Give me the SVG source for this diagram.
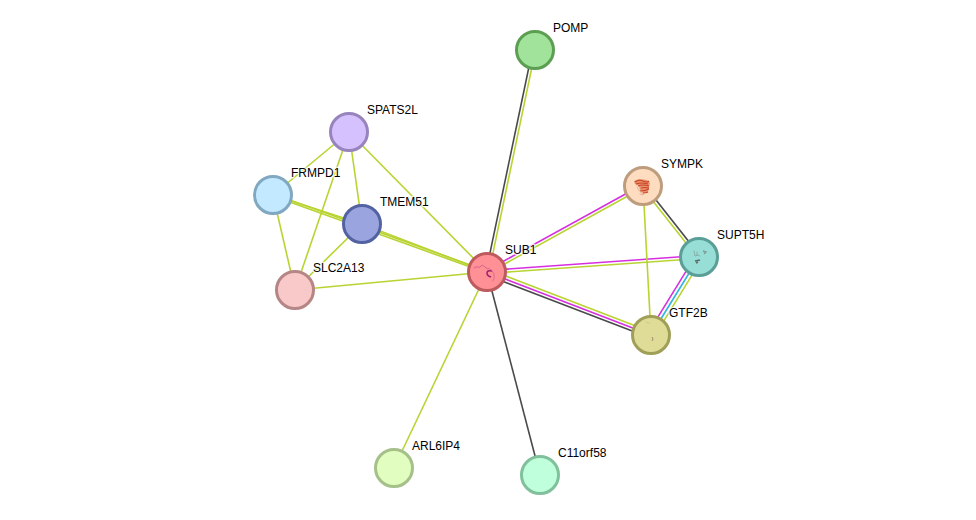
<svg xmlns="http://www.w3.org/2000/svg" width="976" height="520" viewBox="0 0 976 520">
  <style>
    .e { fill: none; stroke-width: 1.6; stroke-linecap: butt; }
    .lime { stroke: #b8d432; }
    .mag { stroke: #d62fe0; }
    .cyan { stroke: #2fb6e0; }
    .dark { stroke: #4a4a4a; }
    .ring { stroke-width: 3; }
    .lbl { font-family: "Liberation Sans", Arial, sans-serif; font-size: 12px; fill: #000; stroke: #fff; stroke-width: 2.5px; stroke-opacity: .75; paint-order: stroke; }
    .fold { fill: none; stroke-width: .7; stroke-linecap: round; }
  </style>
  <rect width="976" height="520" fill="#fff"/>

  <g id="connectors">
    <line class="e dark" x1="486" y1="272" x2="532.5" y2="50"/>
    <line class="e lime" x1="489" y1="272" x2="535.5" y2="50"/>
    <line class="e mag" x1="486.3" y1="270.7" x2="642.3" y2="184.7"/>
    <line class="e lime" x1="487.7" y1="273.3" x2="643.7" y2="187.3"/>
    <line class="e mag" x1="487" y1="270.5" x2="699" y2="255.5"/>
    <line class="e lime" x1="487" y1="273.5" x2="699" y2="258.5"/>
    <line class="e lime" x1="488.1" y1="269.2" x2="652.1" y2="332.2"/>
    <line class="e mag" x1="487" y1="272" x2="651" y2="335"/>
    <line class="e dark" x1="485.9" y1="274.8" x2="649.9" y2="337.8"/>
    <line class="e dark" x1="644.2" y1="185.1" x2="700.2" y2="256.1"/>
    <line class="e lime" x1="641.8" y1="186.9" x2="697.8" y2="257.9"/>
    <line class="e mag" x1="696" y1="255.2" x2="648" y2="333.2"/>
    <line class="e cyan" x1="699" y1="257" x2="651" y2="335"/>
    <line class="e lime" x1="702" y1="258.8" x2="654" y2="336.8"/>
    <line class="e lime" x1="643" y1="186" x2="651" y2="335"/>
    <line class="e lime" x1="273" y1="194" x2="487" y2="271"/>
    <line class="e lime" x1="273" y1="196" x2="487" y2="273"/>
    <line class="e lime" x1="362" y1="224" x2="487" y2="272"/>
    <line class="e lime" x1="273" y1="195" x2="362" y2="224"/>
    <line class="e lime" x1="349" y1="132" x2="273" y2="195"/>
    <line class="e lime" x1="349" y1="132" x2="295" y2="290"/>
    <line class="e lime" x1="349" y1="132" x2="362" y2="224"/>
    <line class="e lime" x1="349" y1="132" x2="487" y2="272"/>
    <line class="e lime" x1="273" y1="195" x2="295" y2="290"/>
    <line class="e lime" x1="362" y1="224" x2="295" y2="290"/>
    <line class="e lime" x1="295" y1="290" x2="487" y2="272"/>
    <line class="e lime" x1="487" y1="272" x2="394" y2="468"/>
    <line class="e dark" x1="487" y1="272" x2="540" y2="475"/>
  </g>

  <g id="POMP">
    <circle class="ring" cx="535" cy="50" r="18.5" fill="#a2e39b" stroke="#5c9f52"/>
    <text class="lbl" x="553" y="32">POMP</text>
  </g>
  <g id="SPATS2L">
    <circle class="ring" cx="349" cy="132" r="18.5" fill="#d6c1ff" stroke="#9884bd"/>
    <text class="lbl" x="367" y="114">SPATS2L</text>
  </g>
  <g id="FRMPD1">
    <circle class="ring" cx="273" cy="195" r="18.5" fill="#c2e9ff" stroke="#80a8c0"/>
    <text class="lbl" x="291" y="177">FRMPD1</text>
  </g>
  <g id="TMEM51">
    <circle class="ring" cx="362" cy="224" r="18.5" fill="#9aa5e0" stroke="#5362a2"/>
    <text class="lbl" x="380" y="206">TMEM51</text>
  </g>
  <g id="SLC2A13">
    <circle class="ring" cx="295" cy="290" r="18.5" fill="#f9c8c8" stroke="#b68585"/>
    <text class="lbl" x="313" y="272">SLC2A13</text>
  </g>
  <g id="SUB1">
    <circle class="ring" cx="487" cy="272" r="18.5" fill="#ff9095" stroke="#bd5a5e"/>
    <path class="fold" stroke="#c8508a" d="M474 268q2-2 4-1t3-1 4 1 3 2"/>
    <path stroke="#a01f6c" stroke-width="1.5" fill="none" d="M492 271q-5-1-5 2t4 4"/>
    <path class="fold" stroke="#c8608a" d="M488 268q5 2 6 6t-1 7"/>
    <text class="lbl" x="505" y="254">SUB1</text>
  </g>
  <g id="SYMPK">
    <circle class="ring" cx="643" cy="186" r="18.5" fill="#fddcc0" stroke="#bd9d7c"/>
    <path fill="#d8552f" fill-opacity=".55" d="M634 181l5-2 8 1 3 3-1 4-1 5-5 1-3-3-1-4-4-2z"/>
    <path fill="none" stroke="#c9431f" stroke-width="1.1" d="M635 182q4-3 8-1t6 0M636 184q5-2 12 0M638 186q5-2 11 0M641 188q4-1 8 0M640 191q5 0 9-2M643 193q3 0 5-1"/>
    <path class="fold" stroke="#dd9a80" d="M637 187q2 5 6 7M640 194q3 2 4 0"/>
    <text class="lbl" x="661" y="168">SYMPK</text>
  </g>
  <g id="SUPT5H">
    <circle class="ring" cx="699" cy="257" r="18.5" fill="#97dfd6" stroke="#5a9e97"/>
    <path class="fold" stroke="#7f9c98" d="M694 251l1 5 3-1 2 1M697 255l0-3"/>
    <path stroke="#7f9c98" stroke-width="1.4" fill="none" d="M703 251l3 1-2 2"/>
    <path stroke="#5f6a68" stroke-width="1.7" fill="none" d="M695 261l5-1M696 263l2-1"/>
    <text class="lbl" x="717" y="239">SUPT5H</text>
  </g>
  <g id="GTF2B">
    <circle class="ring" cx="651" cy="335" r="18.5" fill="#dfdc98" stroke="#a09f58"/>
    <path stroke="#a98a70" stroke-width="1" fill="none" d="M652 337l1 2-1 2"/>
    <path class="fold" stroke="#c4c488" d="M646 322q2 2 4 1"/>
    <text class="lbl" x="669" y="317">GTF2B</text>
  </g>
  <g id="ARL6IP4">
    <circle class="ring" cx="394" cy="468" r="18.5" fill="#e1fdbf" stroke="#a5c088"/>
    <text class="lbl" x="412" y="450">ARL6IP4</text>
  </g>
  <g id="C11orf58">
    <circle class="ring" cx="540" cy="475" r="18.5" fill="#c0ffdc" stroke="#80c09a"/>
    <text class="lbl" x="558" y="457">C11orf58</text>
  </g>
</svg>
